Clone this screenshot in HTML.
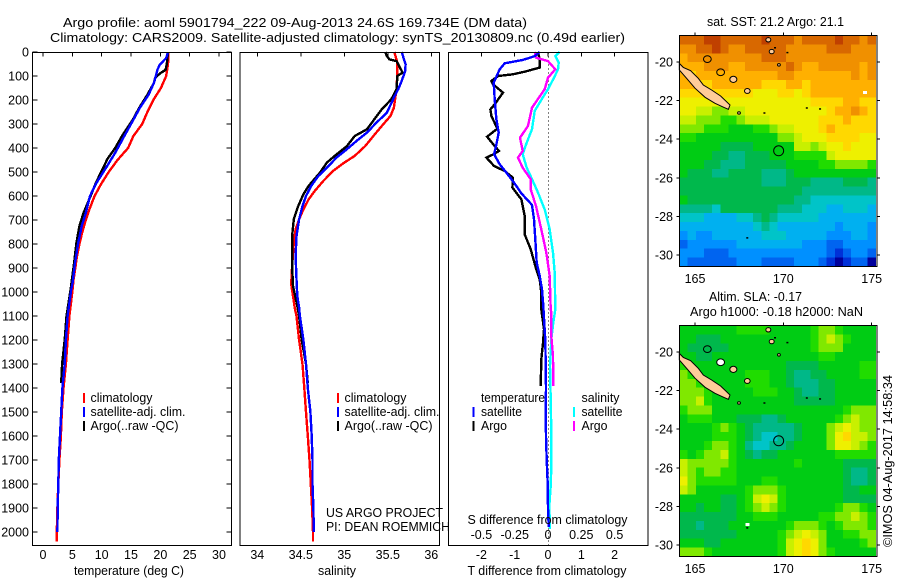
<!DOCTYPE html>
<html lang="en">
<head>
<meta charset="utf-8">
<title>Argo profile</title>
<style>
html,body{margin:0;padding:0;background:#fff;width:900px;height:580px;overflow:hidden}
svg{display:block}
text{font-family:"Liberation Sans",sans-serif;font-size:12.5px;fill:#000}
</style>
</head>
<body>
<svg id="chart" xmlns="http://www.w3.org/2000/svg" width="900" height="580" viewBox="0 0 900 580">
  <rect x="0" y="0" width="900" height="580" fill="#fff"/>
  <text x="63" y="27" textLength="464" lengthAdjust="spacingAndGlyphs">Argo profile: aoml 5901794_222 09-Aug-2013 24.6S 169.734E (DM data)</text>
  <text x="50" y="42" textLength="575" lengthAdjust="spacingAndGlyphs">Climatology: CARS2009. Satellite-adjusted climatology: synTS_20130809.nc (0.49d earlier)</text>

  <g id="maps"></g>
  <g id="panels"></g>

  <g shape-rendering="crispEdges">
    <line x1="84" y1="393" x2="84" y2="403" stroke="#f00" stroke-width="2"/>
    <line x1="84" y1="407" x2="84" y2="417" stroke="#00f" stroke-width="2"/>
    <line x1="84" y1="421" x2="84" y2="431" stroke="#000" stroke-width="2"/>
    <text x="90.5" y="402" textLength="62" lengthAdjust="spacingAndGlyphs">climatology</text>
    <text x="90.5" y="416" textLength="95" lengthAdjust="spacingAndGlyphs">satellite-adj. clim.</text>
    <text x="90.5" y="430" textLength="88" lengthAdjust="spacingAndGlyphs">Argo(..raw -QC)</text>
  </g>
  <g shape-rendering="crispEdges">
    <line x1="338" y1="393" x2="338" y2="403" stroke="#f00" stroke-width="2"/>
    <line x1="338" y1="407" x2="338" y2="417" stroke="#00f" stroke-width="2"/>
    <line x1="338" y1="421" x2="338" y2="431" stroke="#000" stroke-width="2"/>
    <text x="344.5" y="402" textLength="62" lengthAdjust="spacingAndGlyphs">climatology</text>
    <text x="344.5" y="416" textLength="95" lengthAdjust="spacingAndGlyphs">satellite-adj. clim.</text>
    <text x="344.5" y="430" textLength="88" lengthAdjust="spacingAndGlyphs">Argo(..raw -QC)</text>
    <text x="326" y="517" textLength="117" lengthAdjust="spacingAndGlyphs">US ARGO PROJECT</text>
    <text x="326" y="531" textLength="124" lengthAdjust="spacingAndGlyphs">PI: DEAN ROEMMICH</text>
  </g>
  <g shape-rendering="crispEdges">
    <text x="481" y="402" textLength="64" lengthAdjust="spacingAndGlyphs">temperature</text>
    <line x1="473.5" y1="407" x2="473.5" y2="417" stroke="#00f" stroke-width="2"/>
    <text x="481" y="416" textLength="41" lengthAdjust="spacingAndGlyphs">satellite</text>
    <line x1="473.5" y1="421" x2="473.5" y2="431" stroke="#000" stroke-width="2"/>
    <text x="481" y="430" textLength="26" lengthAdjust="spacingAndGlyphs">Argo</text>
    <text x="581.5" y="402" textLength="38" lengthAdjust="spacingAndGlyphs">salinity</text>
    <line x1="574" y1="407" x2="574" y2="417" stroke="#0ff" stroke-width="2"/>
    <text x="581.5" y="416" textLength="41" lengthAdjust="spacingAndGlyphs">satellite</text>
    <line x1="574" y1="421" x2="574" y2="431" stroke="#f0f" stroke-width="2"/>
    <text x="581.5" y="430" textLength="26" lengthAdjust="spacingAndGlyphs">Argo</text>
  </g>

  <text x="74" y="575" textLength="110" lengthAdjust="spacingAndGlyphs">temperature (deg C)</text>
  <text x="318" y="575" textLength="38" lengthAdjust="spacingAndGlyphs">salinity</text>
  <text x="467.5" y="524" textLength="160" lengthAdjust="spacingAndGlyphs">S difference from climatology</text>
  <text x="467.5" y="575" textLength="159" lengthAdjust="spacingAndGlyphs">T difference from climatology</text>

  <text x="707" y="26" textLength="137" lengthAdjust="spacingAndGlyphs">sat. SST: 21.2 Argo: 21.1</text>
  <text x="709" y="301" textLength="93" lengthAdjust="spacingAndGlyphs">Altim. SLA: -0.17</text>
  <text x="690" y="316" textLength="173" lengthAdjust="spacingAndGlyphs">Argo h1000: -0.18 h2000: NaN</text>
  <text transform="translate(892,547) rotate(-90)" x="0" y="0" textLength="172" lengthAdjust="spacingAndGlyphs">©IMOS 04-Aug-2017 14:58:34</text>
</svg>

<script>
/* ---------- profile data ---------- */
const depthTicks = [0,100,200,300,400,500,600,700,800,900,1000,1100,1200,1300,1400,1500,1600,1700,1800,1900,2000];
const tempTicks = [0,5,10,15,20,25,30];
const salTicks = [34,34.5,35,35.5,36];
const salTickLabels = ['34','34.5','35','35.5','36'];
const tDiffTicks = [-2,-1,0,1,2];
const sDiffTicks = [-0.5,-0.25,0,0.25,0.5];
const sDiffTickLabels = ['-0.5','-0.25','0','0.25','0.5'];

const tempClimDepth = [0,50,100,150,200,250,300,350,400,450,500,550,600,650,700,750,800,850,900,950,1000,1100,1200,1300,1400,1500,1600,1700,1800,1900,2000,2040];
const tempClim = [21.4,21.3,21.0,20.1,18.8,17.8,16.9,15.4,14.5,12.7,11.2,9.9,8.8,8.0,7.3,6.7,6.2,5.8,5.5,5.2,5.0,4.5,4.2,3.9,3.5,3.2,3.05,2.8,2.6,2.45,2.35,2.35];

const tempSatDepth = [0,25,53,74,94,129,178,233,282,344,420,476,546,601,671,726,796,879,962,990,1100,1200,1300,1400,1500,1600,1700,1800,1900,2000];
const tempSat = [21.3,21.0,19.9,19.5,19.3,18.9,18.0,16.5,15.4,14.0,12.3,10.9,9.1,8.0,7.3,6.6,6.0,5.45,5.05,4.8,4.2,3.9,3.7,3.3,3.1,2.9,2.7,2.6,2.5,2.45];

const tempArgoDepth = [0,50,74,90,108,129,178,233,282,344,400,445,476,546,601,671,726,796,879,990,1100,1200,1300,1380];
const tempArgo = [21.3,21.1,20.9,19.9,19.1,18.9,17.8,16.4,15.3,13.6,12.3,11.0,10.4,9.0,8.1,6.9,6.2,5.7,5.3,4.7,4.0,3.7,3.25,3.1];

const salClimDepth = [0,44,86,155,232,267,300,343,392,433,461,496,537,579,614,656,697,739,794,892,968,1017,1065,1100,1200,1300,1400,1500,1600,1700,1800,1900,2000,2040];
const salClim = [35.575,35.61,35.61,35.6,35.57,35.53,35.45,35.35,35.24,35.12,35.0,34.87,34.76,34.66,34.59,34.53,34.48,34.44,34.42,34.4,34.39,34.41,34.43,34.45,34.48,34.52,34.54,34.56,34.58,34.6,34.615,34.63,34.64,34.64];

const salSatDepth = [0,24,51,79,121,155,190,253,294,336,371,405,440,482,517,558,600,642,697,767,850,947,1017,1065,1100,1200,1300,1400,1500,1600,1700,1800,1900,2000];
const salSat = [35.66,35.68,35.705,35.7,35.66,35.62,35.57,35.49,35.37,35.26,35.14,35.03,34.91,34.8,34.7,34.62,34.56,34.52,34.48,34.45,34.44,34.45,34.46,34.48,34.49,34.53,34.56,34.58,34.61,34.625,34.635,34.635,34.645,34.65];

const salArgoDepth = [0,17,31,38,51,86,100,155,197,239,288,322,350,392,433,461,503,558,593,642,697,767,892,975,1058,1100,1200,1300,1380];
const salArgo = [35.47,35.49,35.52,35.6,35.62,35.67,35.61,35.6,35.54,35.43,35.33,35.26,35.12,35.03,34.89,34.8,34.72,34.59,34.53,34.47,34.42,34.4,34.4,34.41,34.46,34.48,34.51,34.56,34.58];

const dTempSatDepth = [0,17,33,47,72,103,128,197,281,336,385,426,468,503,544,589,637,697,781,878,933,989,1058,1200,1300,1400,1500,1600,1700,1800,1900,1980];
const dTempSat = [-0.25,-0.4,-0.75,-1.3,-1.45,-1.55,-1.63,-1.6,-1.55,-1.48,-1.55,-1.62,-1.45,-1.25,-1.02,-0.8,-0.48,-0.42,-0.38,-0.34,-0.25,-0.18,-0.14,-0.08,-0.07,-0.06,-0.07,-0.06,-0.04,-0.01,0,0.02];

const dTempArgoDepth = [0,31,65,82,93,100,121,135,169,218,239,267,319,353,392,412,426,440,475,496,524,565,614,683,760,822,906,947,1003,1072,1156,1212,1281,1392];
const dTempArgo = [-0.3,-0.25,-0.25,-0.7,-1.05,-1.5,-1.7,-1.65,-1.35,-1.6,-1.73,-1.7,-1.52,-1.83,-1.6,-1.47,-1.63,-1.85,-1.62,-1.3,-1.05,-1.07,-0.8,-0.7,-0.7,-0.52,-0.35,-0.25,-0.2,-0.2,-0.12,-0.15,-0.2,-0.22];

const dSalSatDepth = [0,17,44,72,107,155,190,246,322,378,426,482,524,586,656,739,836,919,1072,1128,1197,1308,1447,1586,1725,1808,1892,1988];
const dSalSat = [0.0875,0.055,0.08,0.075,0.045,0,-0.04,-0.1,-0.12,-0.16,-0.19,-0.16,-0.125,-0.075,-0.025,0.0125,0.0375,0.05,0.055,0.04,0.025,0.015,0.02,0.025,0.025,0.02,0.01,0.015];

const dSalArgoDepth = [0,24,38,72,107,155,232,308,357,412,440,482,530,572,642,739,836,933,1072,1086,1183,1267,1392];
const dSalArgo = [-0.1,-0.0875,0,0.055,0,-0.025,-0.12,-0.15,-0.21,-0.19,-0.225,-0.19,-0.13,-0.13,-0.09,-0.05,-0.0125,0.0125,0.02,0.025,0.025,0.0375,0.04];

/* ---------- map data ---------- */
const mapLonTicks = [165,170,175];
const mapLatTicks = [-20,-22,-24,-26,-28,-30];

/* palette level per grid cell, north row first */
const sstLevels = [
[16,16,16,17,17,16,16,16,16,16,17,16,16,16,15,16,16,16,16,17,16,16,15,16],
[15,15,16,16,17,16,15,15,16,16,16,16,16,15,15,15,15,15,16,16,16,15,15,15],
[14,15,15,15,15,15,15,15,15,15,16,16,16,15,15,15,15,15,15,15,15,15,15,15],
[14,14,14,15,15,15,14,14,15,15,15,15,15,16,15,14,14,15,15,15,15,15,14,15],
[14,13,14,14,14,14,14,14,14,14,14,14,15,15,14,14,14,14,14,14,14,15,14,15],
[14,14,13,13,14,14,14,14,14,14,13,13,13,14,14,13,14,14,14,14,14,14,14,14],
[13,13,13,13,13,13,13,13,13,12,12,12,13,13,12,13,14,14,14,14,14,14,14,14],
[12,12,12,12,12,12,12,12,12,12,12,12,12,12,12,12,13,13,13,13,14,14,13,13],
[12,12,11,11,10,10,11,11,12,12,12,12,12,12,12,12,12,12,13,14,14,15,14,13],
[11,11,10,10,10,9,9,10,11,11,11,12,12,12,12,12,12,13,13,13,14,13,13,13],
[10,10,10,9,9,9,8,8,8,9,9,10,11,11,12,12,12,13,14,13,13,13,13,13],
[9,9,8,8,8,8,8,8,8,8,8,8,10,10,11,12,12,12,13,13,13,13,12,12],
[8,8,8,8,8,7,7,7,7,8,8,8,8,8,11,11,10,11,12,12,13,12,12,12],
[8,8,8,8,7,7,6,6,7,7,7,8,8,8,9,9,9,9,11,12,12,12,12,12],
[8,8,8,7,7,6,6,6,7,7,7,7,7,8,8,8,8,9,9,10,10,10,10,9],
[8,7,7,7,6,6,7,7,7,7,6,6,6,7,8,8,8,8,8,8,8,8,8,8],
[7,7,7,7,7,7,7,7,7,7,6,6,6,7,7,7,6,6,6,6,7,7,7,6],
[7,7,7,7,7,7,7,7,7,7,7,7,7,7,7,6,6,6,6,6,6,6,6,6],
[8,7,7,7,7,7,7,7,7,7,7,7,7,7,6,6,5,5,5,5,5,5,5,5],
[6,6,6,6,5,7,7,7,7,7,7,7,6,6,6,5,5,5,4,4,5,5,5,4],
[5,5,5,4,4,4,4,5,5,6,7,6,5,5,5,5,5,4,4,4,4,4,4,4],
[4,4,4,4,4,4,4,4,4,5,6,5,4,4,4,4,4,4,4,3,4,4,4,3],
[3,4,3,3,4,4,4,4,4,4,5,5,5,4,4,4,4,4,3,3,3,4,4,3],
[2,3,3,3,3,3,3,4,4,4,4,4,4,4,4,3,3,3,2,2,3,3,3,3],
[3,3,3,2,2,2,3,3,3,3,3,3,3,3,3,3,3,3,2,1,2,3,3,2],
[3,2,2,2,2,2,2,3,3,3,2,2,2,2,3,3,3,2,1,0,1,2,2,0]
];

const slaLevels = [
[8,8,8,8,8,8,8,9,9,9,9,8,8,8,8,8,9,10,10,9,8,8,8,8],
[8,8,7,7,7,8,8,8,8,8,8,8,8,8,8,8,9,10,11,10,9,8,8,8],
[8,7,7,7,7,7,8,8,8,8,8,8,8,8,8,8,9,10,10,10,8,8,8,8],
[8,8,7,7,8,8,8,8,8,8,8,8,8,8,8,8,8,9,9,8,8,8,8,8],
[9,8,8,8,8,8,8,8,8,8,8,8,8,7,7,7,7,8,8,8,8,8,9,9],
[10,9,8,8,8,8,8,8,9,9,9,8,8,7,6,6,7,7,8,8,8,8,9,9],
[10,10,9,8,8,8,8,8,9,9,9,8,8,7,6,6,6,7,7,8,8,8,8,8],
[10,10,10,9,8,8,8,8,8,9,9,9,8,8,7,6,6,7,7,8,8,8,8,8],
[10,10,11,9,8,8,8,8,8,8,8,8,8,8,7,7,7,7,7,8,8,8,8,8],
[9,10,10,10,8,8,8,8,8,8,8,8,8,8,8,8,8,8,8,8,9,10,10,10],
[8,9,9,9,8,8,8,7,7,7,6,6,7,8,8,8,8,8,8,9,10,11,10,10],
[8,8,8,8,9,10,9,8,7,6,6,6,6,6,7,8,8,8,10,11,12,11,10,10],
[8,8,8,8,9,9,9,8,7,6,5,5,6,6,7,8,8,8,10,12,13,11,11,10],
[8,8,8,9,10,10,9,8,6,5,5,6,6,7,8,8,8,8,10,12,12,11,10,9],
[9,8,9,10,10,11,9,8,7,6,7,7,8,8,8,8,8,8,8,9,9,9,9,9],
[11,10,10,10,10,10,9,8,8,8,8,8,8,8,9,8,8,8,8,8,7,7,7,7],
[11,10,9,10,10,9,9,8,8,8,8,8,8,8,8,8,8,8,8,8,7,6,6,7],
[12,10,9,9,9,9,9,8,8,8,9,9,8,8,8,8,8,8,8,8,7,6,6,7],
[11,10,8,8,8,8,8,8,9,10,10,10,9,8,8,8,8,8,8,8,7,7,8,8],
[8,8,8,8,8,7,7,8,9,11,12,11,9,8,8,8,8,8,8,8,7,7,7,7],
[8,8,7,8,8,7,7,8,9,10,11,10,9,8,8,8,8,8,8,9,10,10,9,8],
[7,7,7,7,7,7,7,8,8,9,9,9,8,8,8,8,8,9,9,10,10,11,10,9],
[7,7,6,7,7,7,8,8,8,8,8,8,8,9,10,10,10,9,8,9,10,10,10,9],
[7,7,7,7,7,7,7,8,8,8,8,8,9,10,11,12,11,10,8,8,9,9,10,10],
[8,8,8,7,7,8,8,8,8,8,8,8,9,11,12,13,12,10,8,8,8,8,9,10],
[10,10,10,9,8,8,8,8,8,8,8,8,9,11,12,13,12,10,9,8,8,8,8,8]
];

const paletteColors = ['#00009c','#0030d8','#0064f0','#0090ff','#00b0f0','#00c4c8','#00b888','#00b84c','#00cc14','#20dc00','#80e800','#c8f000','#eef000','#ffd800','#ffb000','#f09000','#d86800','#c04000'];

const mainIslandLon = [164.11,164.34,164.75,165.19,165.47,165.94,166.45,166.98,166.89,166.64,166.13,165.57,165.0,164.53,164.11];
const mainIslandLat = [-20.07,-20.28,-20.45,-20.85,-21.19,-21.45,-21.76,-22.23,-22.45,-22.35,-22.14,-21.83,-21.36,-20.85,-20.41];
const isletLon = [165.7,166.45,167.17,167.96,169.15,169.34,169.75,167.49];
const isletLat = [-19.85,-20.53,-20.9,-21.5,-18.85,-19.46,-20.15,-22.64];
const isletRadius = [0.22,0.22,0.2,0.16,0.14,0.14,0.08,0.08];
const reefLon = [168.9,171.3,172.05,167.93,170.2,169.5];
const reefLat = [-22.63,-22.37,-22.42,-29.1,-19.5,-19.25];
const sstGapLon = [174.6];
const sstGapLat = [-21.57];
const slaGapLon = [167.95];
const slaGapLat = [-28.95];
const floatLon = 169.734;
const floatLat = -24.6;

/* ---------- drawing ---------- */
const SVGNS = 'http://www.w3.org/2000/svg';
function mk(parent, tag, attrs, txt){
  const el = document.createElementNS(SVGNS, tag);
  for (const k in attrs) el.setAttribute(k, attrs[k]);
  if (txt !== undefined) el.textContent = txt;
  parent.appendChild(el);
  return el;
}

const panelsG = document.getElementById('panels');
const mapsG = document.getElementById('maps');

const PANEL_TOP = 52.5, PANEL_BOTTOM = 545.5;
const yDepth = d => 52 + d * 0.24;
const xTemp = v => 43 + v * 5.867;
const xSal = v => 257.3 + (v - 34) * 87;
const xTDiff = v => 548 + v * 33.3;
const xSDiff = v => 548 + v * 133.2;

function drawFrame(name, left, right){
  const r = mk(panelsG, 'rect', {x:left, y:PANEL_TOP, width:right-left, height:PANEL_BOTTOM-PANEL_TOP, fill:'none', stroke:'#000', 'stroke-width':1});
  
  
}
function drawTopTicks(name, ticks, xf){
  ticks.forEach(v => {
    const t = mk(panelsG, 'line', {x1:xf(v), x2:xf(v), y1:PANEL_TOP, y2:PANEL_TOP+4, stroke:'#000', 'stroke-width':1, 'shape-rendering':'crispEdges'});
    
    
  });
}
function drawLine(name, depths, values, xf, color){
  const pts = depths.map((d,i) => xf(values[i]).toFixed(1) + ',' + yDepth(d).toFixed(1)).join(' ');
  const p = mk(panelsG, 'polyline', {points:pts, fill:'none', stroke:color, 'stroke-width':2.4, 'stroke-linejoin':'miter', 'shape-rendering':'crispEdges'});
  
  
}
function drawXLabels(name, ticks, labels, xf, y){
  ticks.forEach((v,i) => {
    const t = mk(panelsG, 'text', {x:xf(v), y:y, 'text-anchor':'middle'}, labels[i]);
    
    
  });
}

/* panel 1: temperature */
drawLine('temperature-climatology-line', tempClimDepth, tempClim, xTemp, '#f00');
drawLine('temperature-argo-line', tempArgoDepth, tempArgo, xTemp, '#000');
drawLine('temperature-satellite-line', tempSatDepth, tempSat, xTemp, '#00f');
drawFrame('temperature-panel-frame', 32.5, 231.5);
drawTopTicks('temperature-top-tick', tempTicks, xTemp);
depthTicks.forEach(d => {
  const tl = mk(panelsG, 'line', {x1:32.5, x2:37.5, y1:yDepth(d), y2:yDepth(d), stroke:'#000', 'stroke-width':1, 'shape-rendering':'crispEdges'});
  
  
  const tr = mk(panelsG, 'line', {x1:226.5, x2:231.5, y1:yDepth(d), y2:yDepth(d), stroke:'#000', 'stroke-width':1, 'shape-rendering':'crispEdges'});
  
  
  const lb = mk(panelsG, 'text', {x:29, y:yDepth(d)+4.5, 'text-anchor':'end'}, String(d));
  
  
});
drawXLabels('temperature-tick-label', tempTicks, tempTicks.map(String), xTemp, 559);

/* panel 2: salinity */
drawLine('salinity-climatology-line', salClimDepth, salClim, xSal, '#f00');
drawLine('salinity-argo-line', salArgoDepth, salArgo, xSal, '#000');
drawLine('salinity-satellite-line', salSatDepth, salSat, xSal, '#00f');
drawFrame('salinity-panel-frame', 240, 439.5);
drawTopTicks('salinity-top-tick', salTicks, xSal);
drawXLabels('salinity-tick-label', salTicks, salTickLabels, xSal, 559);

/* panel 3: differences */
const zeroLine = mk(panelsG, 'line', {x1:xTDiff(0)+0.5, x2:xTDiff(0)+0.5, y1:PANEL_TOP, y2:PANEL_BOTTOM, stroke:'#000', 'stroke-width':1, 'stroke-dasharray':'1 3'});


drawLine('t-diff-argo-line', dTempArgoDepth, dTempArgo, xTDiff, '#000');
drawLine('s-diff-satellite-line', dSalSatDepth, dSalSat, xSDiff, '#0ff');
drawLine('s-diff-argo-line', dSalArgoDepth, dSalArgo, xSDiff, '#f0f');
drawLine('t-diff-satellite-line', dTempSatDepth, dTempSat, xTDiff, '#00f');
drawFrame('difference-panel-frame', 448.5, 648);
drawTopTicks('difference-top-tick', tDiffTicks, xTDiff);
drawXLabels('t-diff-tick-label', tDiffTicks, tDiffTicks.map(String), xTDiff, 559);
drawXLabels('s-diff-tick-label', sDiffTicks, sDiffTickLabels, xSDiff, 539);

/* maps */
function drawMap(name, levels, top, bottom, lat20Y, labelY, gapLon, gapLat, lifouFill){
  const LEFT = 679.5, RIGHT = 877, GRID_RIGHT = 875.7;
  const xLon = lon => 695 + (lon - 165) * 17.67;
  const yLat = lat => lat20Y + (-20 - lat) * 19.3;
  const g = mk(mapsG, 'g', {});
  
  
  const nRows = levels.length, nCols = levels[0].length;
  const cw = (GRID_RIGHT - LEFT) / nCols, ch = (bottom - top) / nRows;
  levels.forEach((row, r) => row.forEach((lv, c) => {
    const cell = mk(g, 'rect', {x:LEFT + c*cw, y:top + r*ch, width:cw+0.4, height:ch+0.4, fill:paletteColors[lv], 'shape-rendering':'crispEdges'});
    
    
  }));
  gapLon.forEach((lon,i) => {
    const gap = mk(g, 'rect', {x:xLon(lon)-1.5, y:yLat(gapLat[i])-1.5, width:4, height:3, fill:'#fff', 'shape-rendering':'crispEdges'});
    
    
  });
  const island = mk(g, 'polygon', {points:mainIslandLon.map((lon,i) => xLon(lon).toFixed(1)+','+yLat(mainIslandLat[i]).toFixed(1)).join(' '), fill:'#ffcc99', stroke:'#000', 'stroke-width':1});
  
  
  isletLon.forEach((lon,i) => {
    const fill = i === 0 ? 'none' : (i === 1 ? lifouFill : '#ffcc99');
    const e = mk(g, 'ellipse', {cx:xLon(lon), cy:yLat(isletLat[i]), rx:isletRadius[i]*17.67, ry:isletRadius[i]*19.3*0.8, fill:fill, stroke:'#000', 'stroke-width':1});
    
    
  });
  reefLon.forEach((lon,i) => {
    const d = mk(g, 'rect', {x:xLon(lon)-0.5, y:yLat(reefLat[i])-0.5, width:2, height:1.5, fill:'#000'});
    
    
  });
  const pos = mk(g, 'circle', {cx:xLon(floatLon), cy:yLat(floatLat), r:5, fill:'none', stroke:'#000', 'stroke-width':1});
  
  
  const frame = mk(g, 'rect', {x:LEFT, y:top, width:RIGHT-LEFT, height:bottom-top, fill:'none', stroke:'#000', 'stroke-width':1});
  
  
  mapLonTicks.forEach(lon => {
    const t = mk(g, 'line', {x1:xLon(lon), x2:xLon(lon), y1:top-3, y2:top, stroke:'#000', 'stroke-width':1, 'shape-rendering':'crispEdges'});
    
    
    const l = mk(g, 'text', {x:xLon(lon), y:labelY, 'text-anchor':'middle'}, String(lon));
    
    
  });
  mapLatTicks.forEach(lat => {
    const t = mk(g, 'line', {x1:LEFT-3, x2:LEFT, y1:yLat(lat), y2:yLat(lat), stroke:'#000', 'stroke-width':1, 'shape-rendering':'crispEdges'});
    
    
    const t2 = mk(g, 'line', {x1:RIGHT, x2:RIGHT+3, y1:yLat(lat), y2:yLat(lat), stroke:'#000', 'stroke-width':1, 'shape-rendering':'crispEdges'});
    
    
    const l = mk(g, 'text', {x:673, y:yLat(lat)+4.5, 'text-anchor':'end'}, String(lat));
    
    
  });
}
drawMap('sst-map', sstLevels, 35.5, 266.5, 62, 283, sstGapLon, sstGapLat, 'none');
drawMap('sla-map', slaLevels, 325.5, 556.5, 352, 573, slaGapLon, slaGapLat, '#fff');
</script>
</body>
</html>
